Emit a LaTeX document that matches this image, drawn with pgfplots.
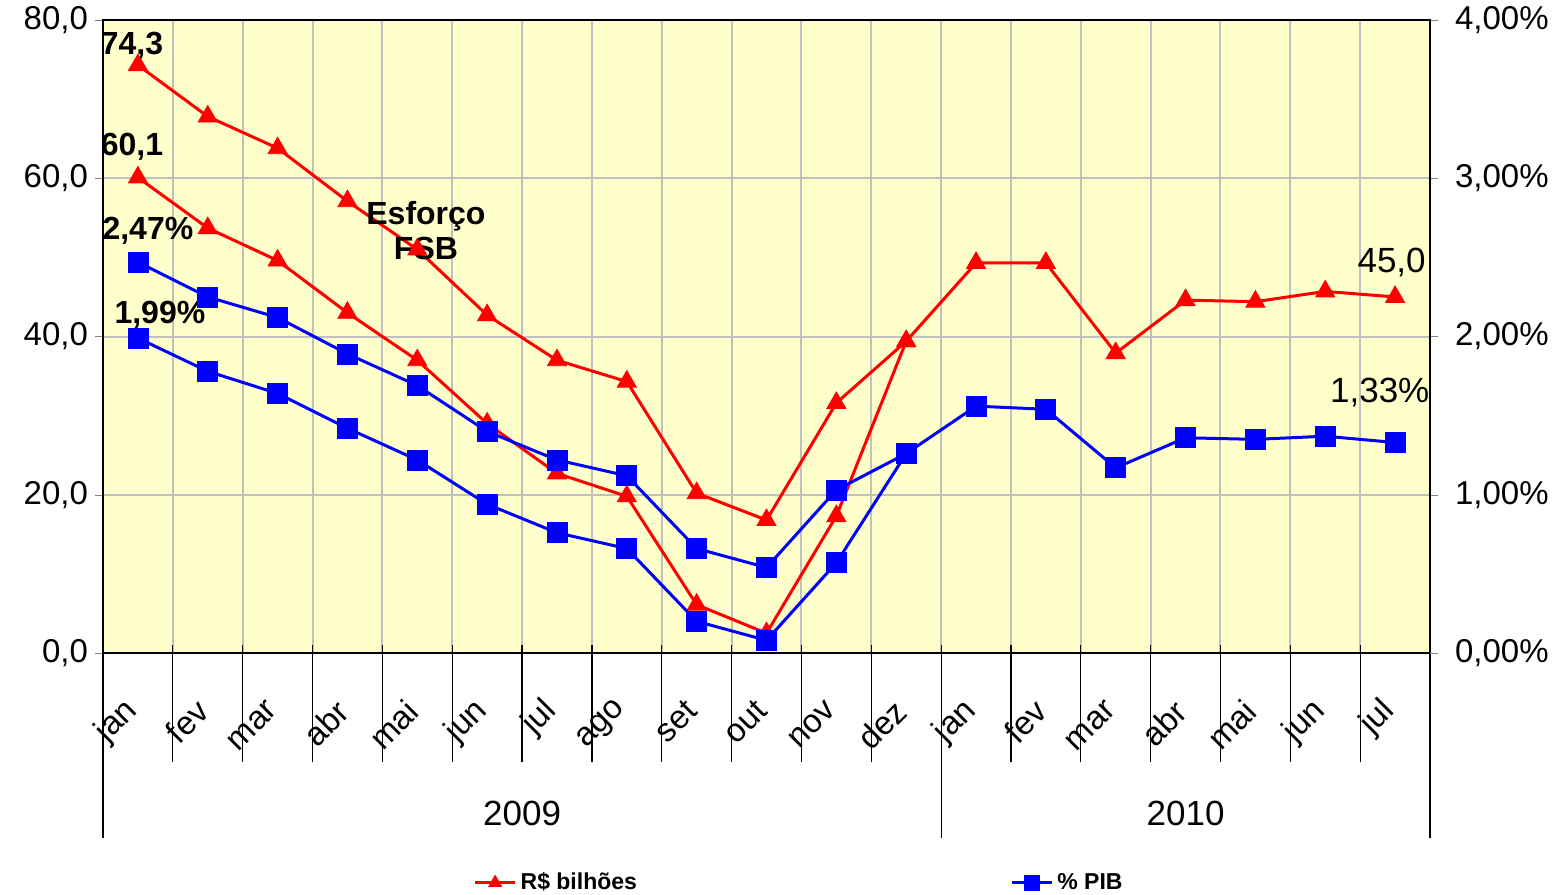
\documentclass[border=0pt]{standalone}
\usepackage{fontspec}
\setmainfont{Liberation Sans}
\usepackage{pgfplots}
\pgfplotsset{compat=1.18}
\definecolor{bgyellow}{RGB}{255,255,204}
\definecolor{gridgray}{RGB}{192,192,192}
\newcommand{\tfont}{\fontsize{16.5}{20}\selectfont}
\newcommand{\bfont}{\fontsize{16}{19}\selectfont\bfseries}
\newcommand{\rfont}{\fontsize{17.5}{21}\selectfont}
\newcommand{\lfont}{\fontsize{11.5}{14}\selectfont\bfseries}

\pgfplotsset{
  common/.style={
    at={(0,0)}, anchor=south west,
    scale only axis, width=663.5pt, height=316.5pt,
    xmin=-0.5, xmax=18.5, clip=false,
    axis line style={line width=1pt},
    tick align=outside, major tick length=4pt,
    /pgf/number format/assume math mode=true,
    legend style={draw=none, fill=none, font=\lfont, inner sep=0pt, anchor=west},
    legend image code/.code={\draw[mark repeat=2,mark phase=2] plot coordinates {(0pt,0pt) (10pt,0pt) (20pt,0pt)};},
    legend image post style={mark size=3.7pt},
  },
}

\begin{document}
\begin{tikzpicture}
\useasboundingbox (-51.5pt,-120.5pt) rectangle (726.5pt,326.5pt);
\begin{axis}[
  common,
  ymin=0, ymax=80,
  axis background/.style={fill=bgyellow},
  xtick={0,...,18},
  xticklabels={jan,fev,mar,abr,mai,jun,jul,ago,set,out,nov,dez,jan,fev,mar,abr,mai,jun,jul},
  major x tick style={draw=none},
  minor xtick={-0.5,0.5,...,18.5},
  minor tick length=0pt,
  xminorgrids=true, ymajorgrids=true,
  grid style={gridgray, line width=1pt},
  ytick={0,20,40,60,80},
  ytick pos=left, xtick pos=bottom,
  yticklabel style={/pgf/number format/.cd, fixed, fixed zerofill, precision=1, use comma, /tikz/.cd, font=\tfont},
  xticklabel style={font=\tfont, yshift=-20pt, rotate=45, anchor=east},
  legend style={at={(0.279,-0.363)}},
]
\addplot[red, line width=1.5pt, mark=triangle*, mark size=5.5pt, mark options={line width=0.4pt}] coordinates {
 (0,74.3) (1,67.8) (2,63.8) (3,57.1) (4,51.0) (5,42.7) (6,37.0) (7,34.3) (8,20.2) (9,16.8)
 (10,31.6) (11,39.4) (12,49.3) (13,49.3) (14,37.9) (15,44.6) (16,44.4) (17,45.7) (18,45.0)};
\addlegendentry{R\$ bilhões}
\addplot[red, line width=1.5pt, mark=triangle*, mark size=5.5pt, mark options={line width=0.4pt}, forget plot] coordinates {
 (0,60.1) (1,53.7) (2,49.6) (3,43.0) (4,37.0) (5,29.0) (6,22.7) (7,19.8) (8,6.1) (9,2.5)
 (10,17.3) (11,39.4)};

% category separators and year separators below the axis
\pgfplotsinvokeforeach{-0.5,0.5,...,18.5}{\draw[line width=0.6pt] (axis cs:#1,0) ++(0pt,4pt) -- ++(0pt,-58.5pt);}
\draw[line width=0.6pt] (axis cs:-0.5,0) -- ++(0pt,-92.5pt);
\draw[line width=0.6pt] (axis cs:11.5,0) -- ++(0pt,-92.5pt);
\draw[line width=0.6pt] (axis cs:18.5,0) -- ++(0pt,-92.5pt);
\node[font=\rfont, anchor=base, yshift=-86pt] at (axis cs:5.5,0) {2009};
\node[font=\rfont, anchor=base, yshift=-86pt] at (axis cs:15,0) {2010};

% data labels
\node[font=\bfont, anchor=base] at (axis cs:-0.086,75.6) {74,3};
\node[font=\bfont, anchor=base] at (axis cs:-0.086,62.9) {60,1};
\node[font=\bfont, anchor=base] at (axis cs:0.143,52.2) {2,47\%};
\node[font=\bfont, anchor=base] at (axis cs:0.315,41.7) {1,99\%};
\node[font=\bfont, anchor=base] at (axis cs:4.124,54.1) {Esforço};
\node[font=\bfont, anchor=base] at (axis cs:4.124,49.7) {FSB};
\node[font=\rfont, anchor=base] at (axis cs:17.95,48.15) {45,0};
\node[font=\rfont, anchor=base] at (axis cs:17.78,31.6) {1,33\%};
\end{axis}

\begin{axis}[
  common,
  ymin=0, ymax=4,
  axis x line=none, axis y line*=right,
  ytick={0,1,2,3,4},
  yticklabel={\pgfmathprintnumber[fixed,fixed zerofill,precision=2,use comma]{\tick}\%},
  yticklabel style={font=\tfont, xshift=5pt},
  legend style={at={(0.6835,-0.363)}},
]
\addplot[blue, line width=1.5pt, mark=square*, mark size=5pt, mark options={line width=0.4pt}] coordinates {
 (0,2.47) (1,2.25) (2,2.12) (3,1.89) (4,1.69) (5,1.40) (6,1.22) (7,1.12) (8,0.66) (9,0.54)
 (10,1.03) (11,1.26) (12,1.56) (13,1.54) (14,1.17) (15,1.36) (16,1.35) (17,1.37) (18,1.33)};
\addlegendentry{\% PIB}
\addplot[blue, line width=1.5pt, mark=square*, mark size=5pt, mark options={line width=0.4pt}, forget plot] coordinates {
 (0,1.99) (1,1.78) (2,1.64) (3,1.42) (4,1.22) (5,0.94) (6,0.76) (7,0.66) (8,0.20) (9,0.08)
 (10,0.57) (11,1.26)};
\end{axis}
\end{tikzpicture}
\end{document}
